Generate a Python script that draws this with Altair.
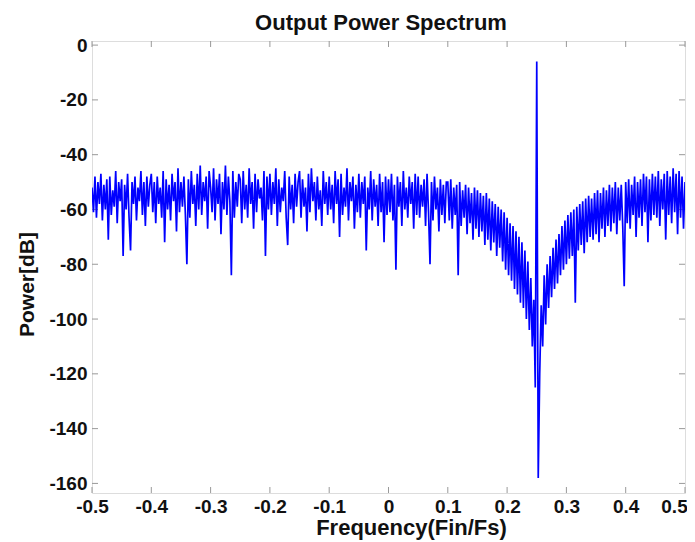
import altair as alt
import pandas as pd
import numpy as np

chart_title = "Output Power Spectrum"
x_title = "Frequency(Fin/Fs)"
y_title = "Power[dB]"
x_ticks = [-0.5, -0.4, -0.3, -0.2, -0.1, 0, 0.1, 0.2, 0.3, 0.4, 0.5]
y_ticks = [0, -20, -40, -60, -80, -100, -120, -140, -160]

# power values (dB), one bin every 0.0025 from -0.5 to 0.5 (401 bins)
power_db = [
    -52, -61, -48, -63, -50, -58, -47, -64, -51, -60, -49, -71, -48, -62, -53, -59, -46, -65, -50, -57,
    -49, -77, -51, -60, -47, -63, -75, -50, -58, -48, -64, -52, -57, -46, -62, -50, -66, -48, -59, -51,
    -47, -61, -50, -65, -48, -58, -52, -63, -46, -72, -49, -60, -51, -64, -47, -57, -50, -68, -45, -61,
    -50, -59, -48, -62, -80, -49, -63, -46, -58, -51, -66, -47, -60, -44, -62, -50, -57, -48, -67, -46,
    -52, -61, -45, -64, -49, -58, -47, -69, -50, -60, -44, -62, -48, -57, -84, -46, -63, -50, -59, -47,
    -49, -65, -46, -60, -51, -63, -45, -58, -50, -67, -47, -61, -49, -56, -52, -64, -46, -77, -48, -60,
    -47, -62, -50, -58, -45, -66, -49, -61, -52, -57, -46, -63, -73, -48, -60, -51, -65, -47, -59, -50,
    -46, -63, -49, -59, -52, -68, -47, -61, -45, -57, -50, -64, -48, -60, -53, -66, -46, -58, -50, -62,
    -48, -60, -51, -65, -46, -58, -49, -70, -47, -62, -52, -59, -45, -64, -50, -57, -48, -67, -51, -61,
    -47, -63, -50, -58, -48, -75, -52, -60, -46, -64, -49, -59, -51, -66, -47, -61, -50, -72, -48, -62,
    -49, -61, -47, -64, -51, -82, -48, -59, -50, -66, -46, -60, -52, -63, -48, -58, -50, -67, -47, -62,
    -48, -63, -51, -59, -49, -66, -47, -61, -80, -50, -64, -48, -60, -52, -68, -49, -62, -51, -65, -50,
    -50, -64, -49, -67, -52, -62, -51, -84, -50, -66, -53, -63, -51, -69, -52, -65, -54, -71, -52, -67,
    -53, -70, -54, -68, -55, -73, -54, -71, -56, -75, -57, -72, -58, -77, -59, -74, -60, -79, -61, -82,
    -63, -84, -65, -86, -66, -89, -68, -91, -70, -94, -72, -96, -75, -100, -79, -104, -85, -110, -93, -125,
    -6, -158, -120, -95, -110, -84, -102, -80, -96, -77, -92, -74, -89, -71, -87, -69, -84, -66, -82, -64,
    -80, -62, -78, -61, -77, -60, -94, -59, -75, -58, -73, -57, -76, -56, -72, -55, -70, -56, -71, -54,
    -69, -53, -72, -54, -67, -52, -70, -53, -66, -51, -68, -52, -65, -50, -69, -52, -64, -51, -66, -88,
    -50, -65, -49, -67, -51, -62, -48, -70, -50, -63, -49, -66, -47, -61, -48, -72, -49, -64, -47, -62,
    -48, -63, -46, -66, -49, -60, -47, -71, -46, -62, -48, -65, -45, -61, -47, -69, -46, -63, -48, -67,
    -50,
]

freq = np.round(np.linspace(-0.5, 0.5, len(power_db)), 5)
df = pd.DataFrame({"freq": freq, "power": power_db})

W, H = 593, 452
FONT = "Liberation Sans"
TXT = "#111111"
x_dom = [-0.5, 0.5]
y_dom = [-163.5, 1.5]

xs = alt.Scale(domain=x_dom, nice=False, zero=False)
ys = alt.Scale(domain=y_dom, nice=False, zero=False)

line = alt.Chart(df).mark_line(color="#0000FF", strokeWidth=1.7, clip=True).encode(
    x=alt.X("freq:Q", scale=xs, axis=alt.Axis(
        values=x_ticks, labelExpr="'' + datum.value", title=x_title,
        ticks=False, grid=False, domain=False, labelPadding=4,
        labelOffset={"condition": {"test": "datum.value == 0.5", "value": -11}, "value": 0},
        labelFont=FONT, labelFontSize=19, labelFontWeight="bold", labelColor=TXT,
        titleFont=FONT, titleFontSize=22, titleFontWeight="bold", titleColor=TXT,
        titleX=319, titleY=41, titleBaseline="alphabetic", titleAlign="center",
        labelFlush=False)),
    y=alt.Y("power:Q", scale=ys, axis=alt.Axis(
        values=y_ticks, labelExpr="'' + datum.value", title=y_title,
        ticks=False, grid=False, domain=False, labelPadding=5,
        labelFont=FONT, labelFontSize=19, labelFontWeight="bold", labelColor=TXT,
        titleFont=FONT, titleFontSize=21, titleFontWeight="bold", titleColor=TXT,
        titleX=-65, titleY=243, titleBaseline="middle", titleAlign="center",
        labelFlush=False)),
)

ydf = pd.DataFrame({"v": y_ticks})
xdf = pd.DataFrame({"v": x_ticks})
tick_color = "#999999"
left_ticks = alt.Chart(ydf).mark_rule(color=tick_color, strokeWidth=1).encode(
    y=alt.Y("v:Q", scale=ys), x=alt.value(0), x2=alt.value(6))
right_ticks = alt.Chart(ydf).mark_rule(color=tick_color, strokeWidth=1).encode(
    y=alt.Y("v:Q", scale=ys), x=alt.value(W - 6), x2=alt.value(W))
bottom_ticks = alt.Chart(xdf).mark_rule(color=tick_color, strokeWidth=1).encode(
    x=alt.X("v:Q", scale=xs), y=alt.value(H - 6), y2=alt.value(H))
top_ticks = alt.Chart(xdf).mark_rule(color=tick_color, strokeWidth=1).encode(
    x=alt.X("v:Q", scale=xs), y=alt.value(0), y2=alt.value(6))

title_df = pd.DataFrame({"t": [chart_title]})
title_mark = alt.Chart(title_df).mark_text(
    font=FONT, fontSize=22, fontWeight="bold", color=TXT,
    align="center", baseline="alphabetic").encode(
    text="t:N", x=alt.value(289), y=alt.value(-11))

chart = alt.layer(left_ticks, right_ticks, bottom_ticks, top_ticks, line, title_mark).properties(
    width=W, height=H,
    autosize=alt.AutoSizeParams(type="none"),
    padding={"left": 84, "top": 33, "right": 2, "bottom": 47},
).configure_view(stroke="#808080", strokeWidth=1).configure(background="white")

chart.save("out.html", embed_options={"renderer": "svg", "actions": False})
